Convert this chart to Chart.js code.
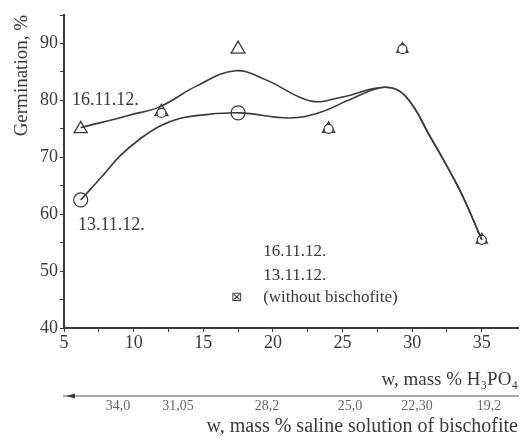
<!DOCTYPE html>
<html>
<head>
<meta charset="utf-8">
<script src="https://cdn.jsdelivr.net/npm/chart.js@4/dist/chart.umd.min.js"></script>
<style>
  html, body { margin: 0; padding: 0; background: #fff; }
  #wrap { width: 528px; height: 439px; }
</style>
</head>
<body>
<div id="wrap"><canvas id="germ"></canvas></div>
<script>
// measured points, 16.11.12. (triangles) and 13.11.12. (circles)
var triX = [6.2, 12, 17.5, 24, 29.3, 35];
var triY = [75, 78, 89, 75, 89, 55.5];
var cirX = [6.2, 12, 17.5, 24, 29.3, 35];
var cirY = [62.5, 77.8, 77.8, 75, 89, 55.5];

// fitted curves
var fitTopX = [6.2, 9.7, 11.9, 14.5, 17.3, 19.5, 22.7, 25, 28, 29.5, 31.3, 33.4, 35];
var fitTopY = [75.2, 77.4, 78.9, 82.5, 85.2, 83.6, 79.9, 80.6, 82.3, 80.8, 73.6, 64.3, 55.5];
var fitLowX = [6.2, 7.9, 9.0, 10.5, 11.9, 13.3, 14.8, 17.6, 21.2, 23.4, 25.5, 28, 29.5, 31.3, 33.4, 35];
var fitLowY = [62.5, 67.1, 70.2, 73.3, 75.5, 76.8, 77.4, 77.8, 76.9, 77.9, 80.1, 82.3, 80.8, 73.6, 64.3, 55.5];

// second (bischofite) scale
var bischPos = [8.88, 13.18, 19.57, 25.53, 30.34, 35.51];
var bischLabels = ["34,0", "31,05", "28,2", "25,0", "22,30", "19,2"];

// marker sizes: circles that sit inside a triangle are drawn smaller
var cirRadius = [7, 4.5, 7, 4.5, 4.5, 4.5];
var triRadius = [7.5, 7.5, 8, 7, 6.5, 6.5];

function pts(xs, ys) {
  return xs.map(function(x, i) { return {x: x, y: ys[i]}; });
}

var serif = "'Liberation Serif', 'DejaVu Serif', serif";
var ink = "#3a3a3a";

var notes = {
  id: 'notes',
  afterDraw: function(chart) {
    var c = chart.ctx, x = chart.scales.x, y = chart.scales.y, x2 = chart.scales.x2;
    c.save();
    c.fillStyle = ink;
    c.textBaseline = 'middle';
    c.textAlign = 'left';
    c.font = "18px " + serif;
    c.fillText("16.11.12.", x.getPixelForValue(5.57), y.getPixelForValue(80));
    c.fillText("13.11.12.", x.getPixelForValue(6.0), y.getPixelForValue(58.1));
    c.font = "17px " + serif;
    c.fillText("16.11.12.", x.getPixelForValue(19.3), y.getPixelForValue(53.4));
    c.fillText("13.11.12.", x.getPixelForValue(19.3), y.getPixelForValue(49.3));
    c.fillText("(without bischofite)", x.getPixelForValue(19.3), y.getPixelForValue(45.3));
    c.textAlign = 'center';
    c.font = "13px 'DejaVu Sans', sans-serif";
    c.fillText("\u22A0", x.getPixelForValue(17.4), y.getPixelForValue(45.3));
    // arrow at the left end of the bischofite axis
    var ay = x2.top, ax = x2.left + 2;
    c.beginPath();
    c.moveTo(ax, ay);
    c.lineTo(ax + 9, ay - 2.5);
    c.lineTo(ax + 9, ay + 2.5);
    c.closePath();
    c.fill();
    c.restore();
  }
};

var ctx = document.getElementById("germ");
var chart = new Chart(ctx, {
  type: 'scatter',
  data: {
    datasets: [{
      label: "fit 16.11.12.",
      type: 'line',
      data: pts(fitTopX, fitTopY),
      borderColor: ink,
      borderWidth: 1.6,
      pointRadius: 0,
      tension: 0.4,
      fill: false
    }, {
      label: "fit 13.11.12.",
      type: 'line',
      data: pts(fitLowX, fitLowY),
      borderColor: ink,
      borderWidth: 1.6,
      pointRadius: 0,
      tension: 0.4,
      fill: false
    }, {
      label: "13.11.12.",
      data: pts(cirX, cirY),
      pointStyle: 'circle',
      pointRadius: cirRadius,
      backgroundColor: '#fff',
      borderColor: ink,
      borderWidth: 1.2
    }, {
      label: "16.11.12.",
      data: pts(triX, triY),
      pointStyle: 'triangle',
      pointRadius: triRadius,
      backgroundColor: 'rgba(255,255,255,0)',
      borderColor: ink,
      borderWidth: 1.3
    }]
  },
  options: {
    responsive: true,
    maintainAspectRatio: false,
    animation: false,
    layout: { padding: { top: 15, right: 10, left: 0, bottom: 0 } },
    plugins: { legend: { display: false }, tooltip: { enabled: false } },
    scales: {
      x: {
        type: 'linear',
        position: 'bottom',
        weight: 0,
        min: 5,
        max: 37.6,
        afterBuildTicks: function(s) {
          s.ticks = s.ticks.filter(function(t) { return Math.abs(t.value / 2.5 - Math.round(t.value / 2.5)) < 1e-6; });
        },
        afterFit: function(s) { s.height = 68; },
        ticks: {
          stepSize: 2.5,
          autoSkip: false,
          maxRotation: 0,
          color: ink,
          padding: 0,
          font: { family: serif, size: 18 },
          callback: function(v) { return v % 5 === 0 ? v : ''; }
        },
        grid: { drawOnChartArea: false, tickLength: 4, color: ink },
        border: { color: ink, width: 2 },
        title: {
          display: true,
          text: "w, mass % H\u2083PO\u2084",
          align: 'end',
          color: ink,
          font: { family: serif, size: 19 },
          padding: { top: 2, bottom: 5 }
        }
      },
      x2: {
        type: 'linear',
        position: 'bottom',
        weight: 1,
        min: 5,
        max: 37.6,
        afterBuildTicks: function(s) {
          s.ticks = bischPos.map(function(p) { return {value: p}; });
        },
        afterFit: function(s) { s.height = 43; },
        ticks: {
          autoSkip: false,
          maxRotation: 0,
          color: '#666',
          padding: 2,
          font: { family: serif, size: 14 },
          callback: function(v, i) { return bischLabels[i]; }
        },
        grid: { display: false, drawTicks: false },
        border: { color: '#aaa', width: 2 },
        title: {
          display: true,
          text: "w, mass % saline solution of bischofite",
          align: 'end',
          color: ink,
          font: { family: serif, size: 20 },
          padding: { top: 2, bottom: 0 }
        }
      },
      y: {
        min: 40,
        max: 95,
        afterFit: function(s) { s.width = 64; },
        ticks: {
          stepSize: 5,
          color: ink,
          padding: 2,
          font: { family: serif, size: 18 },
          callback: function(v) { return v % 10 === 0 ? v : ''; }
        },
        grid: { drawOnChartArea: false, tickLength: 4, color: ink },
        border: { color: ink, width: 2 },
        title: {
          display: true,
          text: "Germination, %",
          align: 'end',
          color: ink,
          font: { family: serif, size: 19 },
          padding: { top: 11, bottom: 0 }
        }
      }
    }
  },
  plugins: [notes]
});
</script>
</body>
</html>
